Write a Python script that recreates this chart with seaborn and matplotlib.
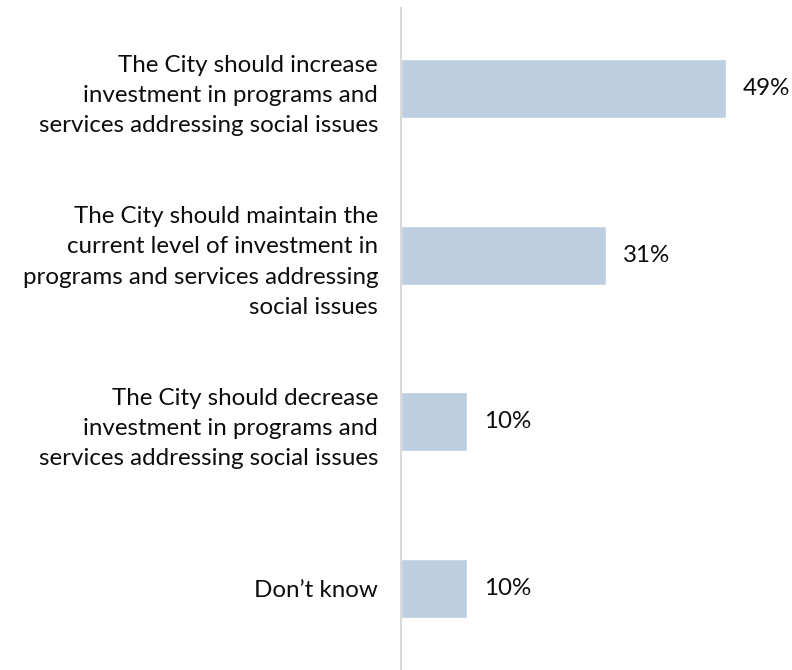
import matplotlib
matplotlib.use("Agg")
import matplotlib.pyplot as plt
import seaborn as sns
import pandas as pd

categories = [
    "The City should increase\ninvestment in programs and\nservices addressing social issues",
    "The City should maintain the\ncurrent level of investment in\nprograms and services addressing\nsocial issues",
    "The City should decrease\ninvestment in programs and\nservices addressing social issues",
    "Don\u2019t know",
]
values = [49, 31, 10, 10]
value_labels = ["49%", "31%", "10%", "10%"]

df = pd.DataFrame({"category": categories, "value": values})

sns.set_theme(style="white")
plt.rcParams["font.family"] = ["Lato", "DejaVu Sans"]

fig = plt.figure(figsize=(7.92, 6.70), dpi=100)
ax = fig.add_axes([401 / 792, 0, 391 / 792, 662 / 670])

sns.barplot(data=df, x="value", y="category", orient="h", color="#BCCEE0",
            saturation=1, width=0.355, ax=ax)

ax.set_xlim(0, 59)
ax.set_ylim(3.49, -0.486)
ax.set_xlabel("")
ax.set_ylabel("")
ax.set_xticks([])

for sp in ["top", "right", "bottom"]:
    ax.spines[sp].set_visible(False)
ax.spines["left"].set_color("#D9D9D9")
ax.spines["left"].set_linewidth(1.5)

ax.tick_params(axis="y", length=0, pad=16.5)
for lbl in ax.get_yticklabels():
    lbl.set_fontsize(17.4)
    lbl.set_color("#0d0d0d")
    lbl.set_multialignment("right")
    lbl.set_linespacing(1.55)

for i, (v, t) in enumerate(zip(values, value_labels)):
    ax.annotate(t, xy=(v, i), xytext=(12, 0), textcoords="offset points",
                va="center", ha="left", fontsize=17.4, color="#0d0d0d")

fig.savefig("out.png", dpi=100)
